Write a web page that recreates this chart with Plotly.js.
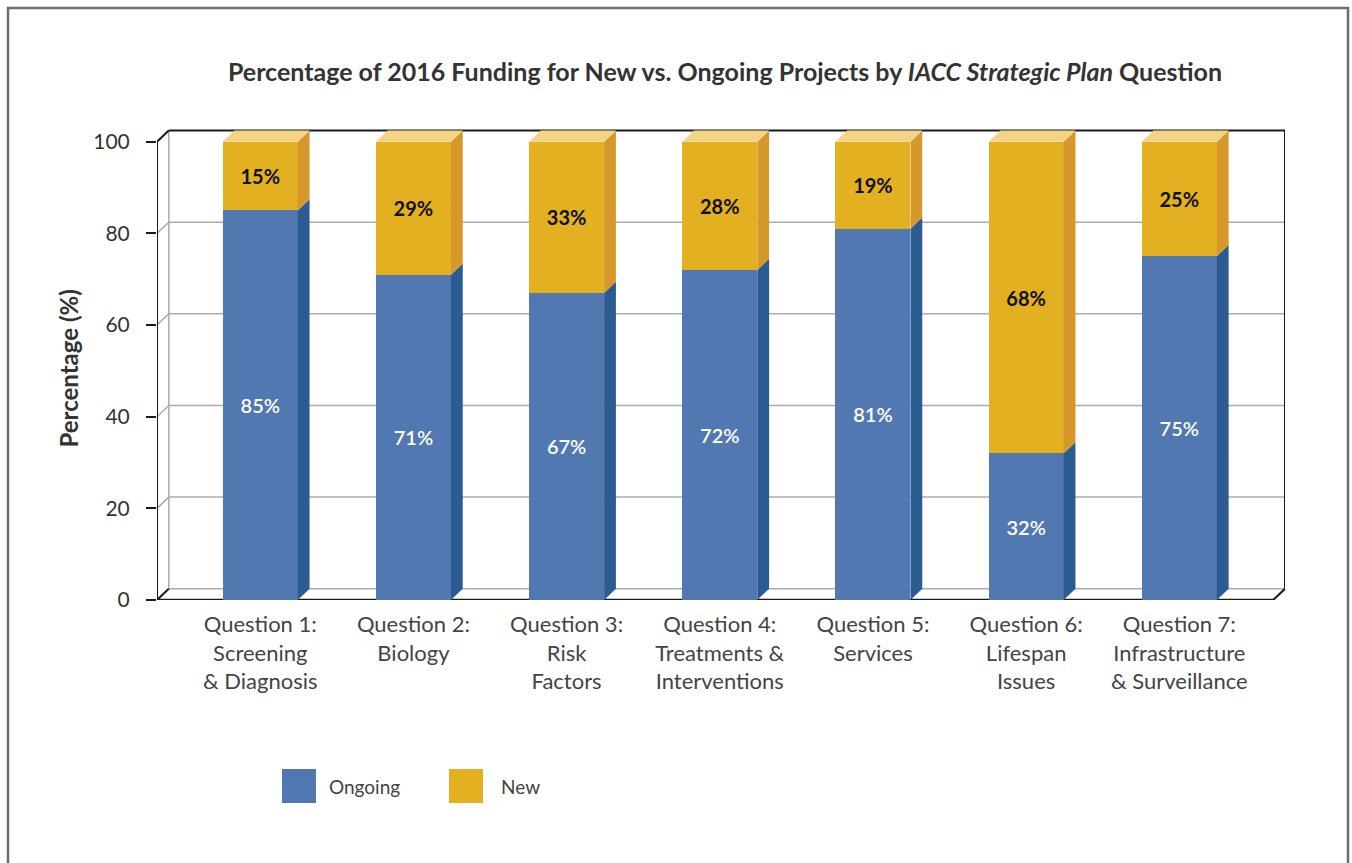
<!DOCTYPE html>
<html>
<head>
<meta charset="utf-8">
<script src="https://cdn.plot.ly/plotly-3.0.1.min.js"></script>
<style>
  html, body { margin: 0; padding: 0; background: #ffffff; }
  #chart { width: 1352px; height: 863px; }
</style>
</head>
<body>
<div id="chart"></div>
<script>
// ---- data ----
const categories = [
  "Question 1:<br>Screening<br>& Diagnosis",
  "Question 2:<br>Biology",
  "Question 3:<br>Risk<br>Factors",
  "Question 4:<br>Treatments &<br>Interventions",
  "Question 5:<br>Services",
  "Question 6:<br>Lifespan<br>Issues",
  "Question 7:<br>Infrastructure<br>& Surveillance"
];
const ongoing = [85, 71, 67, 72, 81, 32, 75];
const newer = [15, 29, 33, 28, 19, 68, 25];
const yTicks = [0, 20, 40, 60, 80, 100];
const seriesNames = ["Ongoing", "New"];

// ---- style / geometry ----
const FONT = "Lato, 'Noto Sans', sans-serif";
const C_ONG = "#5178B0", C_ONG_SIDE = "#2B5C91";
const C_NEW = "#E3B021", C_NEW_SIDE = "#D6982A", C_TOP = "#F3D485";
const BW = 0.49;       // bar width (category units)
const DX = 0.077;      // 3D depth offset x (category units)
const DY = 2.45;       // 3D depth offset y (percentage units)
const X0 = -0.674, X1 = 6.69, YMAX = 103;
const ML = 157, MR = 67, MT = 128, MB = 263;
const PW = 1352 - ML - MR, PH = 863 - MT - MB;
const px = v => (v - ML) / PW;
const py = v => (863 - MB - v) / PH;

const idx = categories.map((_, i) => i);

// side and top faces built from the data
function faces(lo, hi) {
  const xs = [], ys = [];
  idx.forEach(i => {
    const xr = i + BW / 2;
    xs.push(xr, xr + DX, xr + DX, xr, xr, null);
    ys.push(lo[i], lo[i] + DY, hi[i] + DY, hi[i], lo[i], null);
  });
  return {xs, ys};
}
const zeros = idx.map(() => 0);
const totals = idx.map(i => ongoing[i] + newer[i]);
const ongSide = faces(zeros, ongoing);
const newSide = faces(ongoing, totals);
const topX = [], topY = [];
idx.forEach(i => {
  const xl = i - BW / 2, xr = i + BW / 2, t = totals[i];
  topX.push(xl, xl + DX, xr + DX, xr, xl, null);
  topY.push(t, t + DY, t + DY, t, t, null);
});

const polyTrace = (xs, ys, color) => ({
  type: "scatter", mode: "lines", x: xs, y: ys, fill: "toself",
  fillcolor: color, line: {width: 0, color: color}, hoverinfo: "skip",
  showlegend: false, connectgaps: false
});

const traces = [
  {
    type: "bar", name: seriesNames[0], x: idx, y: ongoing, width: BW,
    marker: {color: C_ONG, line: {width: 0}},
    text: ongoing.map(v => v + "%"), textposition: "inside",
    insidetextanchor: "middle", textangle: 0,
    textfont: {family: FONT, size: 20, color: "#ffffff", weight: 600},
    showlegend: false, hoverinfo: "y+name"
  },
  {
    type: "bar", name: seriesNames[1], x: idx, y: newer, width: BW,
    marker: {color: C_NEW, line: {width: 0}},
    text: newer.map(v => v + "%"), textposition: "inside",
    insidetextanchor: "middle", textangle: 0,
    textfont: {family: FONT, size: 20, color: "#111111", weight: 700},
    showlegend: false, hoverinfo: "y+name"
  },
  polyTrace(ongSide.xs, ongSide.ys, C_ONG_SIDE),
  polyTrace(newSide.xs, newSide.ys, C_NEW_SIDE),
  polyTrace(topX, topY, C_TOP)
];

// ---- frame (3D box) ----
const GRAY = "#ababab", BLACK = "#1a1a1a";
const seg = (x0, y0, x1, y1, color, w) => ({
  type: "line", xref: "x", yref: "y", x0, y0, x1, y1,
  line: {color, width: w}, layer: "below"
});
const shapes = [];
yTicks.filter(v => v > 0 && v < 100).forEach(v => {
  shapes.push(seg(X0 + DX, v + DY, X1, v + DY, GRAY, 1.5));
  shapes.push(seg(X0, v, X0 + DX, v + DY, GRAY, 1.5));
});
shapes.push(seg(X0 + DX, DY, X1, DY, GRAY, 1.5));
shapes.push(seg(X0 + DX, DY, X0 + DX, 100 + DY, GRAY, 1.5));
shapes.push(seg(X0, 0, X0 + DX, DY, BLACK, 2));
shapes.push(seg(X0, 0, X0, 100, BLACK, 2));
shapes.push(seg(X0, 100, X0 + DX, 100 + DY, BLACK, 2));
shapes.push(seg(X0 + DX, 100 + DY, X1, 100 + DY, BLACK, 2));
shapes.push(seg(X1, 100 + DY, X1, DY, BLACK, 2));
shapes.push(seg(X1, DY, X1 - DX, 0, BLACK, 2));
shapes.push(seg(X0, 0, X1 - DX, 0, BLACK, 2.5));

// outer border
shapes.push({type: "rect", xref: "paper", yref: "paper",
  x0: px(8), x1: px(1348), y0: py(8), y1: py(880),
  line: {color: "#6e6e6e", width: 2.5}, fillcolor: "rgba(0,0,0,0)"});

// legend squares
shapes.push({type: "rect", xref: "paper", yref: "paper",
  x0: px(282), x1: px(316), y0: py(803), y1: py(769),
  line: {width: 0}, fillcolor: C_ONG});
shapes.push({type: "rect", xref: "paper", yref: "paper",
  x0: px(449), x1: px(483), y0: py(803), y1: py(769),
  line: {width: 0}, fillcolor: C_NEW});

const annotations = [
  {text: "Percentage (%)", xref: "paper", yref: "y", x: px(69), y: 50.5,
   textangle: -90, showarrow: false, xanchor: "center", yanchor: "middle",
   font: {family: FONT, size: 24, color: "#333333", weight: 700}},
  {text: seriesNames[0], xref: "paper", yref: "paper", x: px(327), y: py(786),
   xanchor: "left", yanchor: "middle", showarrow: false,
   font: {family: FONT, size: 19, color: "#444444"}},
  {text: seriesNames[1], xref: "paper", yref: "paper", x: px(499), y: py(786),
   xanchor: "left", yanchor: "middle", showarrow: false,
   font: {family: FONT, size: 19, color: "#444444"}}
];

const layout = {
  width: 1352, height: 863,
  margin: {l: ML, r: MR, t: MT, b: MB, pad: 0},
  paper_bgcolor: "#ffffff", plot_bgcolor: "rgba(0,0,0,0)",
  barmode: "stack", showlegend: false,
  title: {
    text: "Percentage of 2016 Funding for New vs. Ongoing Projects by <i>IACC Strategic Plan</i> Question",
    x: 725 / 1352, xref: "container", xanchor: "center",
    y: 1 - 72 / 863, yref: "container", yanchor: "middle",
    font: {family: FONT, size: 25, color: "#333333", weight: 700}
  },
  xaxis: {
    range: [X0, X1], tickvals: idx, ticktext: categories,
    showgrid: false, zeroline: false, showline: false, ticks: "",
    ticklabelstandoff: 9,
    tickfont: {family: FONT, size: 22, color: "#444444"}, fixedrange: true
  },
  yaxis: {
    range: [0, YMAX], tickvals: yTicks, ticktext: yTicks.map(String),
    showgrid: false, zeroline: false, showline: false,
    ticks: "outside", ticklen: 10, tickwidth: 2, tickcolor: BLACK,
    ticklabelstandoff: 12,
    tickfont: {family: FONT, size: 21, color: "#333333"}, fixedrange: true
  },
  shapes, annotations
};

Plotly.newPlot("chart", traces, layout, {displayModeBar: false, staticPlot: true});
</script>
</body>
</html>
